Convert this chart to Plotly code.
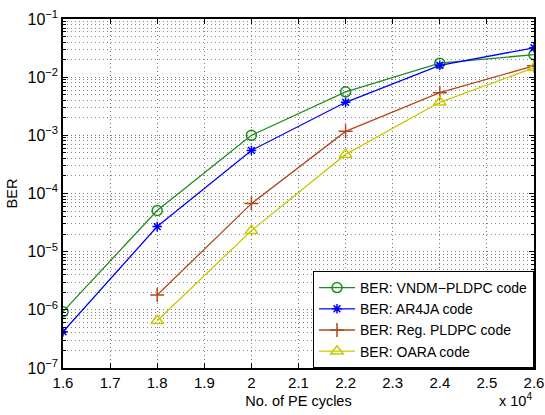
import plotly.graph_objects as go

pe_cycles = [1.6, 1.8, 2.0, 2.2, 2.4, 2.6]  # x 10^4
ber_vndm = [9.3e-7, 5.1e-5, 1.0e-3, 5.6e-3, 1.74e-2, 2.44e-2]
x_reg = [1.8, 2.0, 2.2, 2.4, 2.6]
ber_ar4ja = [4.2e-7, 2.7e-5, 5.5e-4, 3.7e-3, 1.6e-2, 3.2e-2]
ber_reg = [1.8e-6, 6.7e-5, 1.17e-3, 5.4e-3, 1.57e-2]
ber_oara = [6.5e-7, 2.3e-5, 4.7e-4, 3.7e-3, 1.45e-2]

x_ticks = [1.6, 1.7, 1.8, 1.9, 2.0, 2.1, 2.2, 2.3, 2.4, 2.5, 2.6]
x_ticktext = ["1.6", "1.7", "1.8", "1.9", "2", "2.1", "2.2", "2.3", "2.4", "2.5", "2.6"]
y_ticks = [1e-7, 1e-6, 1e-5, 1e-4, 1e-3, 1e-2, 1e-1]
y_ticktext = ["10<sup>\u22127</sup>", "10<sup>\u22126</sup>", "10<sup>\u22125</sup>",
              "10<sup>\u22124</sup>", "10<sup>\u22123</sup>", "10<sup>\u22122</sup>",
              "10<sup>\u22121</sup>"]

font = "Liberation Sans, Arial, Helvetica, sans-serif"
griddash = "1px,3px"

fig = go.Figure()
fig.add_trace(go.Scatter(x=pe_cycles, y=ber_vndm, mode="lines+markers",
                         name="BER: VNDM\u2212PLDPC code",
                         line=dict(color="#1E8C1E", width=1.3),
                         marker=dict(symbol="circle-open", size=10, color="#1E8C1E", line=dict(width=1.5))))
fig.add_trace(go.Scatter(x=pe_cycles, y=ber_ar4ja, mode="lines+markers",
                         name="BER: AR4JA code",
                         line=dict(color="#0000FF", width=1.3),
                         marker=dict(symbol="asterisk-open", size=8, color="#0000FF", line=dict(width=1.5, color="#0000FF"))))
fig.add_trace(go.Scatter(x=x_reg, y=ber_reg, mode="lines+markers",
                         name="BER: Reg. PLDPC code",
                         line=dict(color="#B4461E", width=1.3),
                         marker=dict(symbol="cross-thin-open", size=10, color="#B4461E", line=dict(width=1.5, color="#B4461E"))))
fig.add_trace(go.Scatter(x=x_reg, y=ber_oara, mode="lines+markers",
                         name="BER: OARA code",
                         line=dict(color="#C8C800", width=1.3),
                         marker=dict(symbol="triangle-up-open", size=11, color="#C8C800", line=dict(width=1.5))))

fig.update_layout(
    width=545, height=415,
    margin=dict(l=63, r=11, t=19, b=47),
    paper_bgcolor="white", plot_bgcolor="white",
    font=dict(family=font, size=15, color="black"),
    showlegend=True,
    legend=dict(x=1, y=0, xanchor="right", yanchor="bottom",
                bgcolor="white", bordercolor="black", borderwidth=1,
                font=dict(size=14), tracegroupgap=0, itemwidth=36,
                traceorder="normal"),
    xaxis=dict(range=[1.6, 2.6], tickvals=x_ticks, ticktext=x_ticktext,
               showgrid=True, gridcolor="#777777", griddash=griddash, gridwidth=1,
               ticks="inside", ticklen=5, tickcolor="black",
               showline=True, linecolor="black", linewidth=1.5, mirror="ticks",
               zeroline=False, tickfont=dict(size=15), automargin=False,
               title=dict(text="No. of PE cycles", font=dict(size=14.5), standoff=6)),
    yaxis=dict(type="log", range=[-7, -1], tickvals=y_ticks, ticktext=y_ticktext,
               showgrid=True, gridcolor="#777777", griddash=griddash, gridwidth=1,
               ticks="inside", ticklen=5, tickcolor="black",
               showline=True, linecolor="black", linewidth=1.5, mirror="ticks",
               zeroline=False, tickfont=dict(size=16), automargin=False,
               minor=dict(showgrid=True, gridcolor="#888888", griddash=griddash, gridwidth=1,
                          ticks="inside", ticklen=3, tickcolor="black", dtick="D1"),
               title=dict(text="BER", font=dict(size=14.5), standoff=6)),
)

fig.add_annotation(text="x 10<sup>4</sup>", xref="paper", yref="paper",
                   x=1.0, y=-0.092, xanchor="right", yanchor="middle",
                   showarrow=False, font=dict(size=14.5))

fig.write_html("out.html",
               config={"displayModeBar": False},
               post_script="document.body.style.margin='0px';document.body.style.overflow='hidden';")
